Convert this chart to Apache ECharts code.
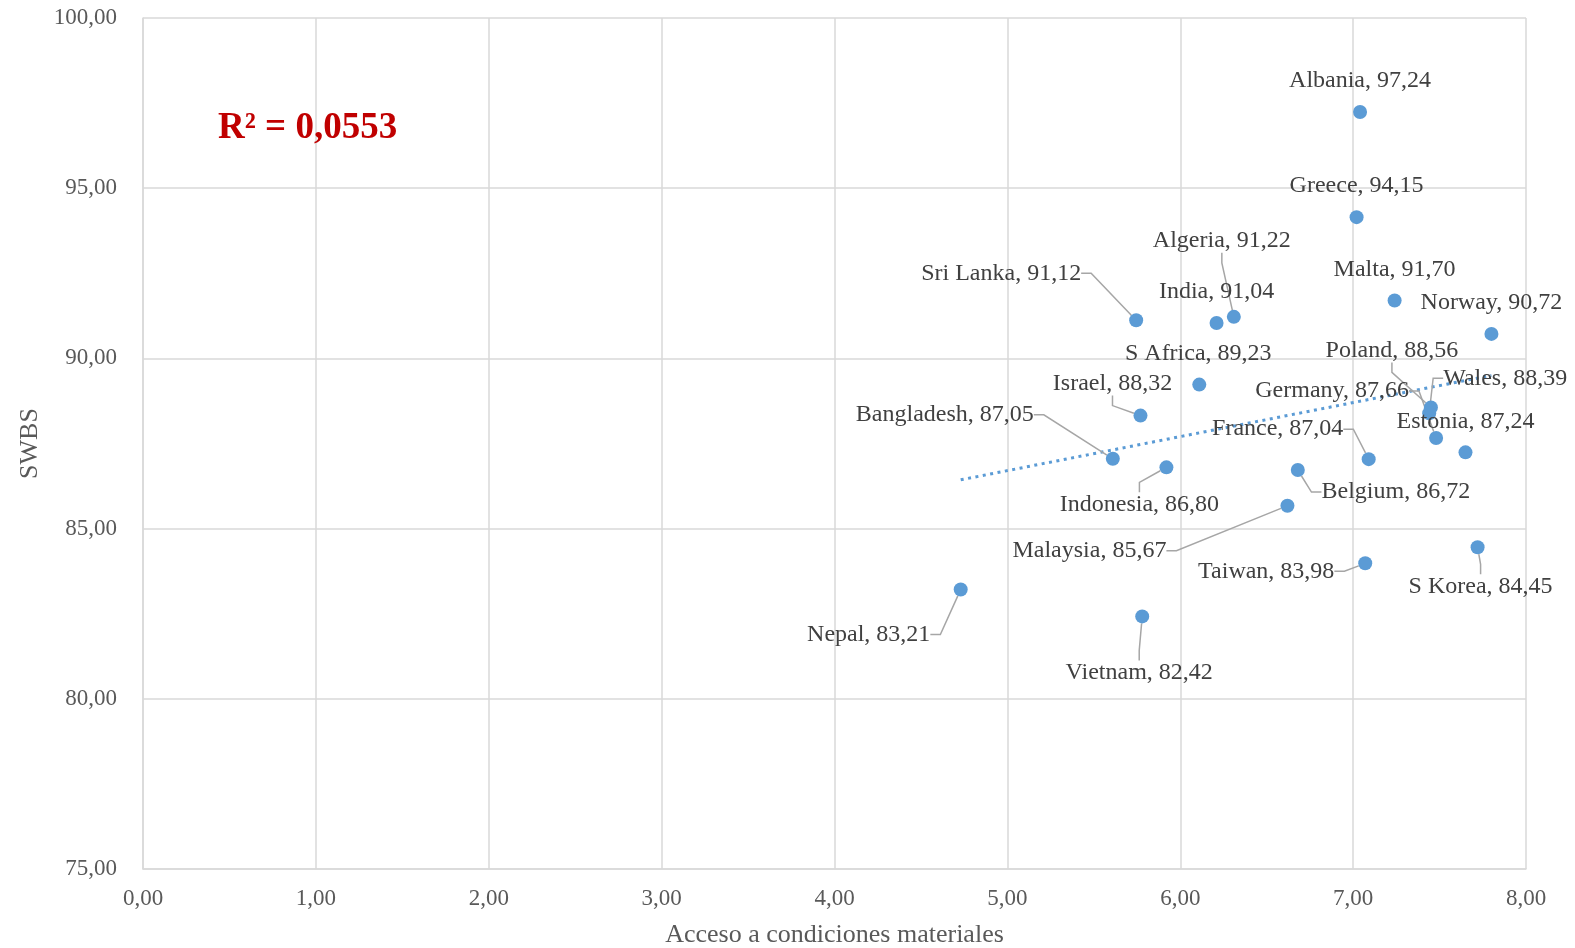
<!DOCTYPE html>
<html>
<head>
<meta charset="utf-8">
<script src="https://cdn.jsdelivr.net/npm/echarts@6/dist/echarts.min.js"></script>
<style>html,body{margin:0;padding:0;background:#fff;}#c{width:1575px;height:948px;}</style>
</head>
<body>
<div id="c"></div>
<script>
// ---- data ----
const countries = ['Albania','Greece','Malta','Norway','Sri Lanka','India','Algeria','S Africa','Israel','Bangladesh','Indonesia','Belgium','Malaysia','France','Poland','Wales','Germany','Estonia','Taiwan','S Korea','Nepal','Vietnam'];
const accesoValues = [7.04, 7.02, 7.24, 7.80, 5.745, 6.21, 6.31, 6.11, 5.77, 5.61, 5.92, 6.68, 6.62, 7.09, 7.45, 7.44, 7.48, 7.65, 7.07, 7.72, 4.73, 5.78];
const swbsValues = [97.24, 94.15, 91.70, 90.72, 91.12, 91.04, 91.22, 89.23, 88.32, 87.05, 86.80, 86.72, 85.67, 87.04, 88.56, 88.39, 87.66, 87.24, 83.98, 84.45, 83.21, 82.42];
const xTicks = [0, 1, 2, 3, 4, 5, 6, 7, 8];
const yTicks = [75, 80, 85, 90, 95, 100];
const r2Text = 'R² = 0,0553';

// ---- label layout (pixel offsets of label centre from point) ----
const labelOffsets = {
  'Albania':[0,-31],'Greece':[0,-31],'Malta':[0,-31],'Norway':[0,-31],'Sri Lanka':[-135,-47],
  'India':[0,-31],'Algeria':[-12,-76],'S Africa':[-1,-31],'Israel':[-28,-32],'Bangladesh':[-168,-44],
  'Indonesia':[-27,37],'Belgium':[98,22],'Malaysia':[-198,45],'France':[-91,-30],'Poland':[-39,-57],
  'Wales':[76,-35],'Germany':[-104,-47],'Estonia':[0,-31],'Taiwan':[-99,8],'S Korea':[3,39],
  'Nepal':[-92,45],'Vietnam':[-3,56]
};
const leaderLines = ['Sri Lanka','Algeria','Israel','Bangladesh','Indonesia','Belgium','Malaysia','France','Poland','Wales','Germany','Taiwan','S Korea','Nepal','Vietnam'];

const fmt = v => v.toFixed(2).replace('.', ',');

// linear trend (least squares) computed from the data
const n = accesoValues.length;
const mx = accesoValues.reduce((a,b)=>a+b,0)/n;
const my = swbsValues.reduce((a,b)=>a+b,0)/n;
let sxy = 0, sxx = 0;
for (let i = 0; i < n; i++) { sxy += (accesoValues[i]-mx)*(swbsValues[i]-my); sxx += (accesoValues[i]-mx)**2; }
const slope = sxy/sxx, icpt = my - slope*mx;
const xmin = Math.min(...accesoValues), xmax = Math.max(...accesoValues);
const trend = [[xmin, icpt + slope*xmin], [xmax, icpt + slope*xmax]];

const scatterData = countries.map((c, i) => ({
  name: c,
  value: [accesoValues[i], swbsValues[i]],
  labelLine: { show: leaderLines.includes(c) }
}));

const chart = echarts.init(document.getElementById('c'), null, {renderer: 'canvas'});
const serif = 'Liberation Serif';
chart.setOption({
  animation: false,
  backgroundColor: '#ffffff',
  grid: { left: 143, right: 49, top: 18, bottom: 79, containLabel: false, outerBoundsMode: 'none' },
  xAxis: {
    type: 'value', min: xTicks[0], max: xTicks[xTicks.length-1], interval: 1,
    name: 'Acceso a condiciones materiales', nameLocation: 'middle', nameGap: 53,
    nameTextStyle: { fontFamily: serif, fontSize: 26, color: '#595959' },
    axisLine: { show: true, lineStyle: { color: '#d9d9d9', width: 1.5 } },
    axisTick: { show: false },
    axisLabel: { fontFamily: serif, fontSize: 23, color: '#595959', margin: 18, formatter: v => fmt(v) },
    splitLine: { show: true, lineStyle: { color: '#d9d9d9', width: 1.5 } }
  },
  yAxis: {
    type: 'value', min: yTicks[0], max: yTicks[yTicks.length-1], interval: 5,
    name: 'SWBS', nameLocation: 'middle', nameGap: 99, nameRotate: 90,
    nameTextStyle: { fontFamily: serif, fontSize: 26, color: '#595959' },
    axisLine: { show: true, lineStyle: { color: '#d9d9d9', width: 1.5 } },
    axisTick: { show: false },
    axisLabel: { fontFamily: serif, fontSize: 23, color: '#595959', margin: 26, formatter: v => fmt(v) },
    splitLine: { show: true, lineStyle: { color: '#d9d9d9', width: 1.5 } }
  },
  graphic: [{
    type: 'text', left: 218, top: 110, z: 100,
    style: { text: r2Text, fontFamily: serif, fontSize: 37, fontWeight: 'bold', fill: '#c00000' }
  }],
  series: [
    {
      type: 'line', data: trend, symbol: 'none', z: 1, silent: true,
      lineStyle: { color: '#5b9bd5', width: 3, type: [3, 4.5], cap: 'butt' }
    },
    {
      type: 'scatter', data: scatterData, symbol: 'circle', symbolSize: 14, z: 3,
      itemStyle: { color: '#5b9bd5', opacity: 1 },
      label: {
        show: true, position: 'inside', align: 'center', verticalAlign: 'middle',
        fontFamily: serif, fontSize: 24, color: '#404040',
        formatter: p => p.name + ', ' + fmt(p.value[1])
      },
      labelLine: { show: false, length2: 10, smooth: false, lineStyle: { color: '#a6a6a6', width: 1.5 } },
      labelLayout: p => { const o = labelOffsets[countries[p.dataIndex]]; return { dx: o[0], dy: o[1] }; }
    }
  ]
});
</script>
</body>
</html>
